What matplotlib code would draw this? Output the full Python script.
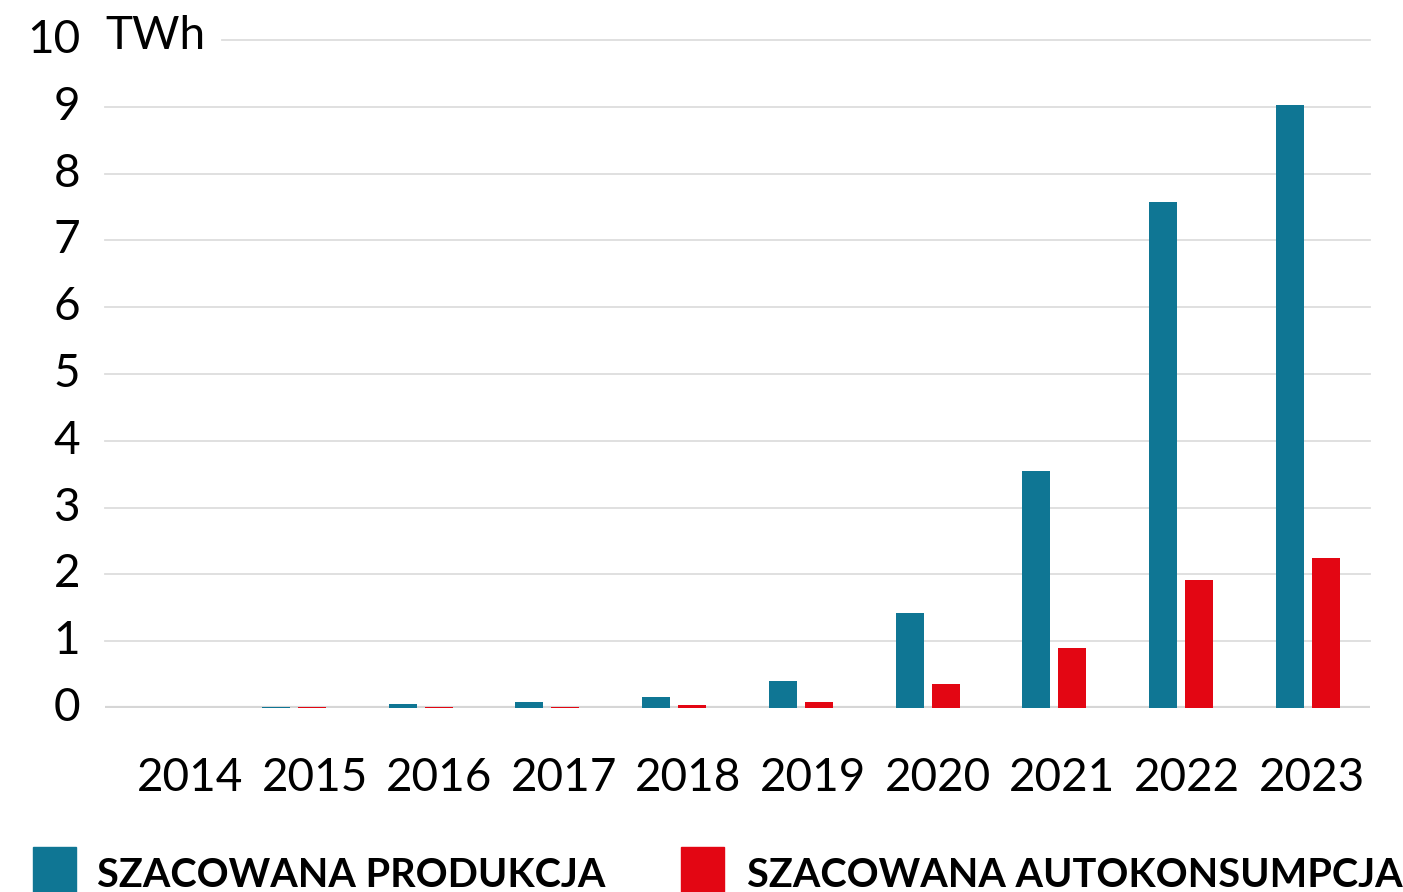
import matplotlib.pyplot as plt
from matplotlib.patches import Rectangle
import matplotlib.transforms as mtransforms
import numpy as np

plt.rcParams['font.family'] = ['Lato', 'DejaVu Sans']

lata = ['2014', '2015', '2016', '2017', '2018', '2019', '2020', '2021', '2022', '2023']
produkcja = [0.0, 0.01, 0.06, 0.09, 0.16, 0.40, 1.42, 3.55, 7.57, 9.03]
autokonsumpcja = [0.0, 0.01, 0.01, 0.01, 0.04, 0.09, 0.36, 0.90, 1.91, 2.25]

niebieski = '#0F7694'
czerwony = '#E30613'

fig = plt.figure(figsize=(14.03, 8.92), dpi=100)
ax = fig.add_axes([105 / 1403, 184 / 892, 1265 / 1403, 668 / 892])

x = np.arange(len(lata))
w = 0.22
ax.bar(x - 0.142, produkcja, w, color=niebieski, zorder=3)
ax.bar(x + 0.142, autokonsumpcja, w, color=czerwony, zorder=3)

ax.set_xlim(-0.49, 9.49)
ax.set_ylim(0, 10)

# linie siatki
for v in range(1, 11):
    xmin = 0.0925 if v == 10 else 0
    ax.axhline(v, xmin=xmin, xmax=1, color='#dddddd', lw=1.3, zorder=1, clip_on=False)
ax.axhline(0, color='#d6d6d6', lw=3, zorder=2)

for s in ax.spines.values():
    s.set_visible(False)

ax.set_yticks(range(0, 11))
ax.set_yticklabels([str(v) for v in range(0, 11)], fontsize=33)
ax.tick_params(axis='y', length=0, pad=18)
przesun = mtransforms.ScaledTranslation(0, 4 / 100, fig.dpi_scale_trans)
for lab in ax.get_yticklabels():
    lab.set_transform(lab.get_transform() + przesun)
# podpisy lat sa lekko przesuniete wzgledem slupkow
ax.set_xticks(np.linspace(0.18, 9.03, len(lata)))
ax.set_xticklabels(lata, fontsize=33)
ax.tick_params(axis='x', length=0, pad=35)
ax.text(0.0, 10, 'TWh', transform=ax.get_yaxis_transform() + przesun, fontsize=33,
        va='center', ha='left')

# legenda
fig.patches.append(Rectangle((33 / 1403, -0.01), 43 / 1403, 54 / 892,
                             transform=fig.transFigure, color=niebieski))
fig.patches.append(Rectangle((681 / 1403, -0.01), 43 / 1403, 54 / 892,
                             transform=fig.transFigure, color=czerwony))
fig.text(97 / 1403, 5 / 892, 'SZACOWANA PRODUKCJA', fontsize=28.5, fontweight='bold',
         va='baseline', ha='left')
fig.text(747 / 1403, 5 / 892, 'SZACOWANA AUTOKONSUMPCJA', fontsize=28.5, fontweight='bold',
         va='baseline', ha='left')

fig.savefig('out.png', dpi=100)
